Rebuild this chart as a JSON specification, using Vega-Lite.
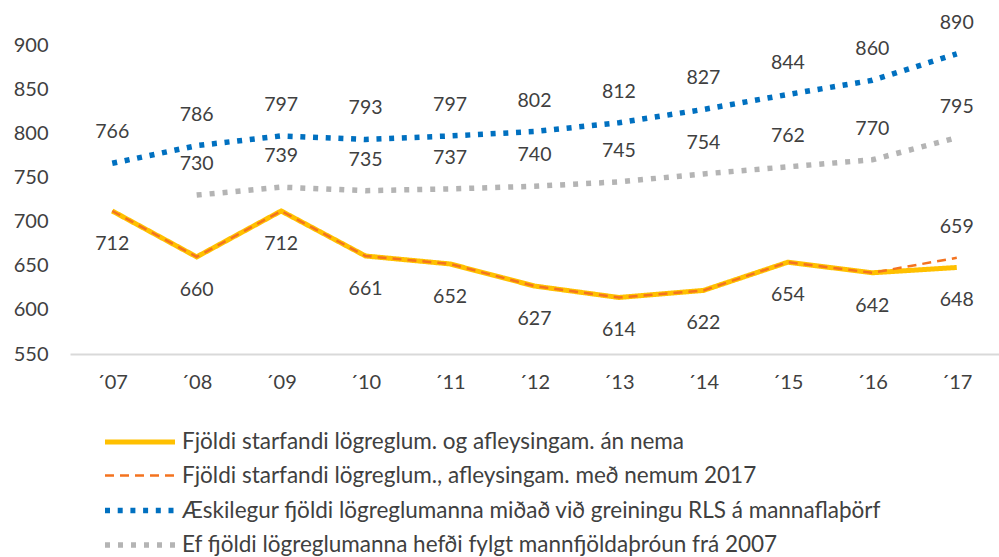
{
  "$schema": "https://vega.github.io/schema/vega-lite/v6.json",
  "width": 929,
  "height": 309,
  "autosize": {"type": "none"},
  "padding": {"left": 70, "top": 45, "right": 0, "bottom": 203},
  "background": "white",
  "config": {
    "view": {"stroke": null},
    "font": "Lato",
    "text": {"font": "Lato", "fontSize": 19.5, "fill": "#404040"}
  },
  "data": {
    "values": [
      {"year": "´07", "series": "Fjöldi starfandi lögreglum. og afleysingam. án nema", "value": 712},
      {"year": "´08", "series": "Fjöldi starfandi lögreglum. og afleysingam. án nema", "value": 660},
      {"year": "´09", "series": "Fjöldi starfandi lögreglum. og afleysingam. án nema", "value": 712},
      {"year": "´10", "series": "Fjöldi starfandi lögreglum. og afleysingam. án nema", "value": 661},
      {"year": "´11", "series": "Fjöldi starfandi lögreglum. og afleysingam. án nema", "value": 652},
      {"year": "´12", "series": "Fjöldi starfandi lögreglum. og afleysingam. án nema", "value": 627},
      {"year": "´13", "series": "Fjöldi starfandi lögreglum. og afleysingam. án nema", "value": 614},
      {"year": "´14", "series": "Fjöldi starfandi lögreglum. og afleysingam. án nema", "value": 622},
      {"year": "´15", "series": "Fjöldi starfandi lögreglum. og afleysingam. án nema", "value": 654},
      {"year": "´16", "series": "Fjöldi starfandi lögreglum. og afleysingam. án nema", "value": 642},
      {"year": "´17", "series": "Fjöldi starfandi lögreglum. og afleysingam. án nema", "value": 648},
      {"year": "´07", "series": "Fjöldi starfandi lögreglum., afleysingam. með nemum 2017", "value": 712},
      {"year": "´08", "series": "Fjöldi starfandi lögreglum., afleysingam. með nemum 2017", "value": 660},
      {"year": "´09", "series": "Fjöldi starfandi lögreglum., afleysingam. með nemum 2017", "value": 712},
      {"year": "´10", "series": "Fjöldi starfandi lögreglum., afleysingam. með nemum 2017", "value": 661},
      {"year": "´11", "series": "Fjöldi starfandi lögreglum., afleysingam. með nemum 2017", "value": 652},
      {"year": "´12", "series": "Fjöldi starfandi lögreglum., afleysingam. með nemum 2017", "value": 627},
      {"year": "´13", "series": "Fjöldi starfandi lögreglum., afleysingam. með nemum 2017", "value": 614},
      {"year": "´14", "series": "Fjöldi starfandi lögreglum., afleysingam. með nemum 2017", "value": 622},
      {"year": "´15", "series": "Fjöldi starfandi lögreglum., afleysingam. með nemum 2017", "value": 654},
      {"year": "´16", "series": "Fjöldi starfandi lögreglum., afleysingam. með nemum 2017", "value": 642},
      {"year": "´17", "series": "Fjöldi starfandi lögreglum., afleysingam. með nemum 2017", "value": 659},
      {"year": "´07", "series": "Æskilegur fjöldi lögreglumanna miðað við greiningu RLS á mannaflaþörf", "value": 766},
      {"year": "´08", "series": "Æskilegur fjöldi lögreglumanna miðað við greiningu RLS á mannaflaþörf", "value": 786},
      {"year": "´09", "series": "Æskilegur fjöldi lögreglumanna miðað við greiningu RLS á mannaflaþörf", "value": 797},
      {"year": "´10", "series": "Æskilegur fjöldi lögreglumanna miðað við greiningu RLS á mannaflaþörf", "value": 793},
      {"year": "´11", "series": "Æskilegur fjöldi lögreglumanna miðað við greiningu RLS á mannaflaþörf", "value": 797},
      {"year": "´12", "series": "Æskilegur fjöldi lögreglumanna miðað við greiningu RLS á mannaflaþörf", "value": 802},
      {"year": "´13", "series": "Æskilegur fjöldi lögreglumanna miðað við greiningu RLS á mannaflaþörf", "value": 812},
      {"year": "´14", "series": "Æskilegur fjöldi lögreglumanna miðað við greiningu RLS á mannaflaþörf", "value": 827},
      {"year": "´15", "series": "Æskilegur fjöldi lögreglumanna miðað við greiningu RLS á mannaflaþörf", "value": 844},
      {"year": "´16", "series": "Æskilegur fjöldi lögreglumanna miðað við greiningu RLS á mannaflaþörf", "value": 860},
      {"year": "´17", "series": "Æskilegur fjöldi lögreglumanna miðað við greiningu RLS á mannaflaþörf", "value": 890},
      {"year": "´08", "series": "Ef fjöldi lögreglumanna hefði fylgt mannfjöldaþróun frá 2007", "value": 730},
      {"year": "´09", "series": "Ef fjöldi lögreglumanna hefði fylgt mannfjöldaþróun frá 2007", "value": 739},
      {"year": "´10", "series": "Ef fjöldi lögreglumanna hefði fylgt mannfjöldaþróun frá 2007", "value": 735},
      {"year": "´11", "series": "Ef fjöldi lögreglumanna hefði fylgt mannfjöldaþróun frá 2007", "value": 737},
      {"year": "´12", "series": "Ef fjöldi lögreglumanna hefði fylgt mannfjöldaþróun frá 2007", "value": 740},
      {"year": "´13", "series": "Ef fjöldi lögreglumanna hefði fylgt mannfjöldaþróun frá 2007", "value": 745},
      {"year": "´14", "series": "Ef fjöldi lögreglumanna hefði fylgt mannfjöldaþróun frá 2007", "value": 754},
      {"year": "´15", "series": "Ef fjöldi lögreglumanna hefði fylgt mannfjöldaþróun frá 2007", "value": 762},
      {"year": "´16", "series": "Ef fjöldi lögreglumanna hefði fylgt mannfjöldaþróun frá 2007", "value": 770},
      {"year": "´17", "series": "Ef fjöldi lögreglumanna hefði fylgt mannfjöldaþróun frá 2007", "value": 795}
    ]
  },
  "encoding": {
    "x": {
      "field": "year", "type": "ordinal", "sort": null,
      "scale": {"type": "band", "paddingInner": 0, "paddingOuter": 0},
      "axis": {
        "title": null, "labelAngle": 0, "ticks": false, "grid": false,
        "domainColor": "#d9d9d9", "domainWidth": 2,
        "labelFont": "Lato", "labelFontSize": 20, "labelColor": "#404040",
        "labelPadding": 18
      }
    },
    "y": {
      "field": "value", "type": "quantitative",
      "scale": {"domain": [550, 900], "nice": false, "zero": false},
      "axis": {
        "title": null, "domain": false, "ticks": false, "grid": false,
        "values": [550, 600, 650, 700, 750, 800, 850, 900],
        "labelFont": "Lato", "labelFontSize": 20, "labelColor": "#404040",
        "labelPadding": 22
      }
    }
  },
  "layer": [
    {
      "mark": {"type": "line", "clip": false},
      "encoding": {
        "color": {
          "field": "series", "type": "nominal",
          "scale": {
            "domain": [
              "Fjöldi starfandi lögreglum. og afleysingam. án nema",
              "Fjöldi starfandi lögreglum., afleysingam. með nemum 2017",
              "Æskilegur fjöldi lögreglumanna miðað við greiningu RLS á mannaflaþörf",
              "Ef fjöldi lögreglumanna hefði fylgt mannfjöldaþróun frá 2007"
            ],
            "range": ["#FFC000", "#F4731F", "#0070C0", "#B4B4B4"]
          },
          "legend": {
            "title": null, "orient": "none", "legendX": 49.5, "legendY": 377,
            "padding": 0, "symbolType": "M-2,0H2", "symbolSize": 1225,
            "labelOffset": 21.5, "rowPadding": 2.5,
            "labelFont": "Lato", "labelFontSize": 22.5, "labelColor": "#404040",
            "labelLimit": 900
          }
        },
        "strokeDash": {
          "field": "series", "type": "nominal",
          "scale": {
            "domain": [
              "Fjöldi starfandi lögreglum. og afleysingam. án nema",
              "Fjöldi starfandi lögreglum., afleysingam. með nemum 2017",
              "Æskilegur fjöldi lögreglumanna miðað við greiningu RLS á mannaflaþörf",
              "Ef fjöldi lögreglumanna hefði fylgt mannfjöldaþróun frá 2007"
            ],
            "range": [[1, 0], [9, 6], [5, 7.7], [5, 8]]
          }
        },
        "strokeWidth": {
          "field": "series", "type": "nominal",
          "scale": {
            "type": "ordinal",
            "domain": [
              "Fjöldi starfandi lögreglum. og afleysingam. án nema",
              "Fjöldi starfandi lögreglum., afleysingam. með nemum 2017",
              "Æskilegur fjöldi lögreglumanna miðað við greiningu RLS á mannaflaþörf",
              "Ef fjöldi lögreglumanna hefði fylgt mannfjöldaþróun frá 2007"
            ],
            "range": [5, 2.5, 5.5, 5.5]
          }
        },
        "order": {"field": "series", "sort": "descending"}
      }
    },
    {
      "transform": [{"filter": "datum.series === 'Fjöldi starfandi lögreglum. og afleysingam. án nema'"}],
      "mark": {"type": "text", "dy": 33, "clip": false},
      "encoding": {"text": {"field": "value", "type": "quantitative"}}
    },
    {
      "transform": [{"filter": "datum.series === 'Fjöldi starfandi lögreglum., afleysingam. með nemum 2017' && datum.year === '´17'"}],
      "mark": {"type": "text", "dy": -31, "clip": false},
      "encoding": {"text": {"field": "value", "type": "quantitative"}}
    },
    {
      "transform": [{"filter": "datum.series === 'Æskilegur fjöldi lögreglumanna miðað við greiningu RLS á mannaflaþörf'"}],
      "mark": {"type": "text", "dy": -31, "clip": false},
      "encoding": {"text": {"field": "value", "type": "quantitative"}}
    },
    {
      "transform": [{"filter": "datum.series === 'Ef fjöldi lögreglumanna hefði fylgt mannfjöldaþróun frá 2007'"}],
      "mark": {"type": "text", "dy": -31, "clip": false},
      "encoding": {"text": {"field": "value", "type": "quantitative"}}
    }
  ]
}
